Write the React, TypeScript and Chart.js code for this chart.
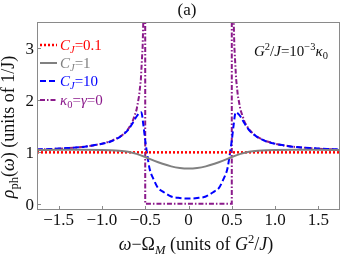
import React, { useEffect, useRef } from "react";
import { Chart, registerables } from "chart.js";

Chart.register(...registerables);

// ---------- data ----------
const redX = [-1.75, 1.75];
const redY = [0.99, 0.99];

const grayX = [-1.75, -1.5, -1.25, -1.0, -0.9, -0.8, -0.7, -0.6, -0.5, -0.4, -0.3, -0.2, -0.1, 0,
  0.1, 0.2, 0.3, 0.4, 0.5, 0.6, 0.7, 0.8, 0.9, 1.0, 1.25, 1.5, 1.75];
const grayY = [1.035, 1.04, 1.04, 1.035, 1.03, 1.02, 1.0, 0.96, 0.9, 0.83, 0.77, 0.72, 0.69, 0.68,
  0.69, 0.72, 0.77, 0.83, 0.9, 0.96, 1.0, 1.02, 1.03, 1.035, 1.04, 1.04, 1.035];

const blueX = [-1.75, -1.6, -1.5, -1.4, -1.3, -1.2, -1.1, -1.0, -0.9, -0.8, -0.75, -0.7, -0.65, -0.6,
  -0.57, -0.545, -0.52, -0.5, -0.475, -0.45, -0.4, -0.35, -0.3, -0.2, -0.1, 0,
  0.1, 0.2, 0.3, 0.35, 0.4, 0.45, 0.475, 0.5, 0.52, 0.545, 0.57, 0.6, 0.65, 0.7, 0.75, 0.8,
  0.9, 1.0, 1.1, 1.2, 1.3, 1.4, 1.5, 1.6, 1.75];
const blueY = [1.045, 1.054, 1.062, 1.072, 1.085, 1.1, 1.125, 1.155, 1.2, 1.28, 1.34, 1.42, 1.54, 1.68,
  1.74, 1.76, 1.5, 1.22, 0.93, 0.68, 0.46, 0.3, 0.24, 0.14, 0.11, 0.1,
  0.11, 0.14, 0.24, 0.3, 0.46, 0.68, 0.93, 1.22, 1.5, 1.76, 1.74, 1.68, 1.54, 1.42, 1.34, 1.28,
  1.2, 1.155, 1.125, 1.1, 1.085, 1.072, 1.062, 1.054, 1.045];

const purpleX = [-1.75, -1.6, -1.5, -1.4, -1.3, -1.2, -1.1, -1.0, -0.9, -0.8, -0.75, -0.7, -0.65, -0.6,
  -0.57, -0.55, -0.53, -0.52, -0.51, -0.505, -0.5, -0.5, 0.5, 0.5,
  0.505, 0.51, 0.52, 0.53, 0.55, 0.57, 0.6, 0.65, 0.7, 0.75, 0.8, 0.9, 1.0, 1.1, 1.2, 1.3, 1.4, 1.5, 1.6, 1.75];
const purpleY = [1.043, 1.053, 1.061, 1.071, 1.083, 1.1, 1.123, 1.155, 1.203, 1.281, 1.342, 1.429, 1.565, 1.809,
  2.083, 2.4, 3.015, 3.64, 5.07, 7.1, 40, 0, 0, 40,
  7.1, 5.07, 3.64, 3.015, 2.4, 2.083, 1.809, 1.565, 1.429, 1.342, 1.281, 1.203, 1.155, 1.123, 1.1, 1.083, 1.071, 1.061, 1.053, 1.043];

const xTicks = [-1.5, -1.0, -0.5, 0, 0.5, 1.0, 1.5];
const xTickLabels = ["\u22121.5", "\u22121.0", "\u22120.5", "0", "0.5", "1.0", "1.5"];
const yTicks = [0, 1, 2, 3];
const yTickLabels = ["0", "1", "2", "3"];

const RED = "#ff0000";
const GRAY = "#808080";
const BLUE = "#0000ff";
const PURPLE = "#8b1a8b";
const FAMILY = '"Liberation Serif", "DejaVu Serif", serif';

type Part = { t: string; i?: boolean; sub?: boolean; sup?: boolean };

function drawRich(ctx: CanvasRenderingContext2D, parts: Part[], x: number, y: number, size: number, color: string, align: "left" | "center") {
  const items = parts.map((p) => {
    const s = p.sub || p.sup ? size * 0.7 : size;
    const font = `${p.i ? "italic " : ""}${s}px ${FAMILY}`;
    ctx.font = font;
    const w = ctx.measureText(p.t).width;
    const dy = p.sub ? size * 0.22 : p.sup ? -size * 0.4 : 0;
    return { t: p.t, font, w, dy };
  });
  const total = items.reduce((a, b) => a + b.w, 0);
  let cx = align === "center" ? x - total / 2 : x;
  ctx.textAlign = "left";
  ctx.textBaseline = "alphabetic";
  ctx.fillStyle = color;
  for (const it of items) {
    ctx.font = it.font;
    ctx.fillText(it.t, cx, y + it.dy);
    cx += it.w;
  }
}

const legendItems = [
  { color: RED, dash: [2, 2], width: 2.5, parts: [{ t: "C", i: true }, { t: "J", i: true, sub: true }, { t: "=0.1" }] },
  { color: GRAY, dash: [], width: 2, parts: [{ t: "C", i: true }, { t: "J", i: true, sub: true }, { t: "=1" }] },
  { color: BLUE, dash: [6, 3], width: 2, parts: [{ t: "C", i: true }, { t: "J", i: true, sub: true }, { t: "=10" }] },
  { color: PURPLE, dash: [5, 2, 1.5, 2], width: 2, parts: [{ t: "\u03ba", i: true }, { t: "0", sub: true }, { t: "=" }, { t: "\u03b3", i: true }, { t: "=0" }] },
];

const overlay = {
  id: "overlay",
  afterDraw(chart: any) {
    const { ctx, chartArea } = chart;
    const { left, top, right, bottom } = chartArea;
    const xs = chart.scales.x;
    const ys = chart.scales.y;
    ctx.save();
    // frame
    ctx.strokeStyle = "#8a8a8a";
    ctx.lineWidth = 1;
    ctx.setLineDash([]);
    ctx.strokeRect(left + 0.5, top + 0.5, right - left - 1, bottom - top - 1);
    // inward ticks
    ctx.beginPath();
    for (const v of xTicks) {
      const px = Math.round(xs.getPixelForValue(v)) + 0.5;
      ctx.moveTo(px, bottom);
      ctx.lineTo(px, bottom - 4);
    }
    for (const v of yTicks) {
      const py = Math.round(ys.getPixelForValue(v)) + 0.5;
      ctx.moveTo(left, py);
      ctx.lineTo(left + 4, py);
    }
    ctx.stroke();

    // tick labels
    ctx.fillStyle = "#111";
    ctx.font = `17px ${FAMILY}`;
    ctx.textBaseline = "alphabetic";
    ctx.textAlign = "center";
    xTicks.forEach((v, k) => {
      ctx.fillText(xTickLabels[k], xs.getPixelForValue(v), 225);
    });
    ctx.textAlign = "right";
    yTicks.forEach((v, k) => {
      ctx.fillText(yTickLabels[k], 34, ys.getPixelForValue(v) + 6);
    });

    // legend
    const ly = [45, 63, 81, 100];
    legendItems.forEach((it, k) => {
      ctx.strokeStyle = it.color;
      ctx.lineWidth = it.width;
      ctx.setLineDash(it.dash);
      ctx.beginPath();
      ctx.moveTo(40, ly[k]);
      ctx.lineTo(57, ly[k]);
      ctx.stroke();
      drawRich(ctx, it.parts, 60, ly[k] + 5, 15, it.color, "left");
    });
    ctx.setLineDash([]);

    // annotation
    drawRich(ctx, [{ t: "G", i: true }, { t: "2", sup: true }, { t: "/" }, { t: "J", i: true }, { t: "=10" }, { t: "\u22123", sup: true }, { t: "\u03ba", i: true }, { t: "0", sub: true }], 254, 56, 15, "#111", "left");

    // title
    drawRich(ctx, [{ t: "(a)" }], 187, 15, 17, "#111", "center");

    // x title
    drawRich(ctx, [{ t: "\u03c9", i: true }, { t: "\u2212\u03a9" }, { t: "M", i: true, sub: true }, { t: " (units of " }, { t: "G", i: true }, { t: "2", sup: true }, { t: "/" }, { t: "J", i: true }, { t: ")" }], 196, 250, 18, "#111", "center");

    // y title
    ctx.save();
    ctx.translate(14, 127);
    ctx.rotate(-Math.PI / 2);
    drawRich(ctx, [{ t: "\u03c1", i: true }, { t: "ph", sub: true }, { t: "(" }, { t: "\u03c9", i: true }, { t: ") (units of 1/J)" }], 0, 0, 18, "#111", "center");
    ctx.restore();

    ctx.restore();
  },
};

function toPts(xs: number[], ys: number[]) {
  return xs.map((x, i) => ({ x, y: ys[i] }));
}

export default function App() {
  const ref = useRef<HTMLCanvasElement | null>(null);
  useEffect(() => {
    document.body.style.margin = "0";
    const canvas = ref.current;
    if (!canvas) return;
    const chart = new Chart(canvas, {
      type: "line",
      data: {
        datasets: [
          { label: "gray", data: toPts(grayX, grayY), borderColor: GRAY, borderWidth: 2, pointRadius: 0, cubicInterpolationMode: "monotone" },
          { label: "red", data: toPts(redX, redY), borderColor: RED, borderWidth: 2.5, borderDash: [2, 2], pointRadius: 0 },
          { label: "blue", data: toPts(blueX, blueY), borderColor: BLUE, borderWidth: 2, borderDash: [6, 3], pointRadius: 0, cubicInterpolationMode: "monotone" },
          { label: "purple", data: toPts(purpleX, purpleY), borderColor: PURPLE, borderWidth: 2, borderDash: [5, 2, 1.5, 2], pointRadius: 0, tension: 0 },
        ] as any,
      },
      options: {
        animation: false,
        responsive: false,
        maintainAspectRatio: false,
        layout: { padding: { top: 22, right: 1, left: 0, bottom: 0 } },
        plugins: { legend: { display: false }, tooltip: { enabled: false }, title: { display: false } },
        scales: {
          x: {
            type: "linear",
            min: -1.75,
            max: 1.75,
            afterBuildTicks: (s: any) => { s.ticks = xTicks.map((v) => ({ value: v })); },
            ticks: { display: false },
            grid: { display: false },
            border: { display: false },
            afterFit: (s: any) => { s.height = 47; },
          },
          y: {
            type: "linear",
            min: -0.12,
            max: 3.5,
            afterBuildTicks: (s: any) => { s.ticks = yTicks.map((v) => ({ value: v })); },
            ticks: { display: false },
            grid: { display: false },
            border: { display: false },
            afterFit: (s: any) => { s.width = 37; },
          },
        },
      } as any,
      plugins: [overlay],
    });
    return () => chart.destroy();
  }, []);
  return (
    <div style={{ width: 341, height: 257 }}>
      <canvas ref={ref} width={341} height={257} style={{ width: 341, height: 257, display: "block" }} />
    </div>
  );
}
